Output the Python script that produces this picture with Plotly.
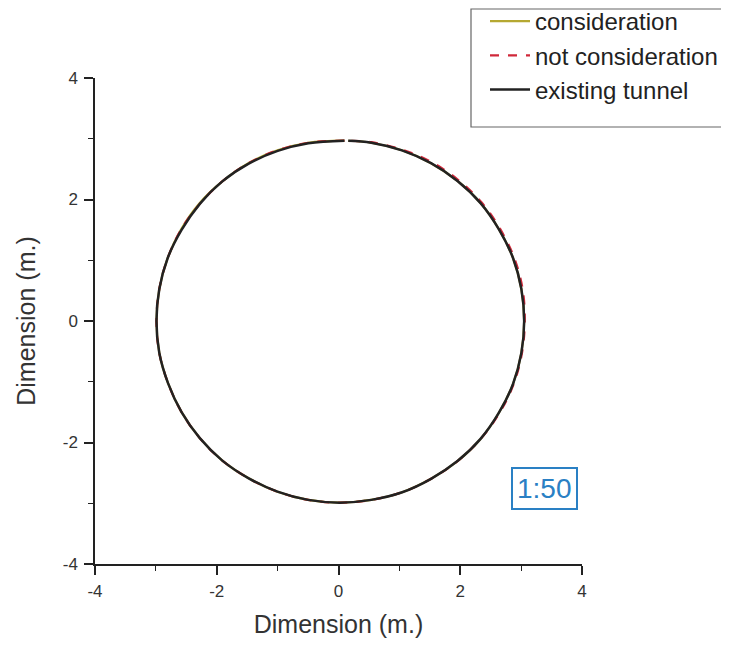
import numpy as np
import plotly.graph_objects as go

angles_deg = [88.5, 100, 110, 120, 130, 140, 150, 160, 170, 180, 190, 200, 210, 220, 230, 240,
              250, 260, 270, 280, 290, 300, 310, 320, 330, 340, 350, 360, 370, 380, 390, 400,
              410, 420, 430, 440, 447.3]
r_consideration = [2.97, 2.98, 2.99, 3.0, 3.0, 3.01, 3.01, 3.01, 3.01, 3.01, 3.01, 3.0, 3.0, 3.0,
                   3.0, 2.99, 2.99, 2.99, 2.99, 2.99, 3.0, 3.0, 3.01, 3.02, 3.02, 3.03, 3.03, 3.03,
                   3.03, 3.03, 3.02, 3.02, 3.01, 3.0, 2.99, 2.98, 2.97]
r_not_consideration = [2.97, 2.98, 2.99, 3.0, 3.0, 3.0, 3.01, 3.01, 3.01, 3.01, 3.01, 3.0, 3.0, 3.0,
                       3.0, 2.99, 2.99, 2.99, 2.99, 2.99, 3.0, 3.0, 3.01, 3.02, 3.03, 3.04, 3.04, 3.04,
                       3.05, 3.05, 3.04, 3.04, 3.03, 3.02, 3.0, 2.99, 2.97]
r_existing = [2.97, 2.97, 2.98, 2.99, 3.0, 3.0, 3.0, 3.01, 3.01, 3.01, 3.01, 3.0, 3.0, 3.0,
              3.0, 2.99, 2.99, 2.99, 2.99, 2.99, 3.0, 3.0, 3.01, 3.02, 3.02, 3.03, 3.03, 3.03,
              3.03, 3.03, 3.02, 3.02, 3.01, 3.0, 2.99, 2.98, 2.97]
center_x = 0.02

x_ticks = [-4, -2, 0, 2, 4]
x_tick_labels = ["-4", "-2", "0", "2", "4"]
y_ticks = [-4, -2, 0, 2, 4]
y_tick_labels = ["-4", "-2", "0", "2", "4"]
series_names = ["consideration", "not consideration", "existing tunnel"]
scale_label = "1:50"

th = np.radians(angles_deg)

def xy(r):
    r = np.array(r)
    return center_x + r * np.cos(th), r * np.sin(th)

fig = go.Figure()
xs, ys = xy(r_consideration)
fig.add_trace(go.Scatter(x=xs, y=ys, mode="lines", name=series_names[0],
                         line=dict(color="#b5a832", width=2.2, shape="spline")))
xs, ys = xy(r_not_consideration)
fig.add_trace(go.Scatter(x=xs, y=ys, mode="lines", name=series_names[1],
                         line=dict(color="#d0283a", width=2.2, dash="dash", shape="spline")))
xs, ys = xy(r_existing)
fig.add_trace(go.Scatter(x=xs, y=ys, mode="lines", name=series_names[2],
                         line=dict(color="#222222", width=2.5, shape="spline")))

FONT = "Liberation Sans, Arial"
axis_common = dict(
    range=[-4, 4], showgrid=False, zeroline=False, showline=True, linecolor="#222",
    linewidth=1.5, ticks="outside", ticklen=9, tickwidth=1.5, tickcolor="#222",
    tickfont=dict(family=FONT, size=17, color="#333"), automargin=False,
    minor=dict(ticks="outside", ticklen=5, tickwidth=1.2, tickcolor="#222", dtick=1),
)
fig.update_xaxes(**axis_common, tickvals=x_ticks, ticktext=x_tick_labels, ticklabelstandoff=2,
                 title=dict(text="Dimension (m.)", font=dict(family=FONT, size=25, color="#333"), standoff=15))
fig.update_yaxes(**axis_common, tickvals=y_ticks, ticktext=y_tick_labels, ticklabelstandoff=3,
                 title=dict(text="Dimension (m.)", font=dict(family=FONT, size=25, color="#333"), standoff=20))

fig.add_annotation(x=3.38, y=-2.76, xref="x", yref="y", text=scale_label, showarrow=False,
                   font=dict(family=FONT, size=28, color="#2a80c4"),
                   bordercolor="#2a80c4", borderwidth=2, borderpad=4, bgcolor="white")

# plot area in figure px: x 87..574, y 70..556
PX0, PX1, PY0, PY1 = 87, 574, 70, 556
def px_to_paper_x(p):
    return (p - PX0) / (PX1 - PX0)
def px_to_paper_y(p):
    return (PY1 - p) / (PY1 - PY0)

# legend frame
fig.add_shape(type="rect", xref="paper", yref="paper",
              x0=px_to_paper_x(463), x1=px_to_paper_x(719),
              y0=px_to_paper_y(119), y1=px_to_paper_y(1),
              line=dict(color="#666", width=1.2), fillcolor="rgba(0,0,0,0)", layer="above")

fig.update_layout(
    width=729, height=645, plot_bgcolor="white", paper_bgcolor="white",
    margin=dict(l=PX0, r=729 - PX1, t=PY0, b=645 - PY1, autoexpand=False),
    showlegend=True,
    legend=dict(x=px_to_paper_x(477), y=px_to_paper_y(-9), xref="paper", yref="paper",
                xanchor="left", yanchor="top", bgcolor="rgba(0,0,0,0)",
                font=dict(family=FONT, size=24, color="#222"),
                tracegroupgap=0, itemwidth=40),
)

fig.write_html("out.html")
